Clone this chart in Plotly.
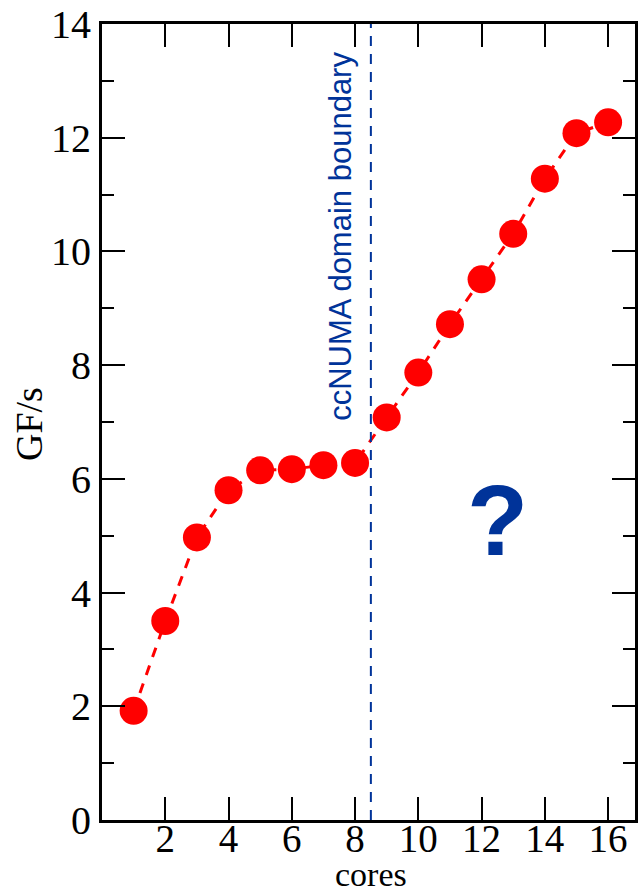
import plotly.graph_objects as go

# Measured throughput vs. number of cores
cores = list(range(1, 17))
gflops = [1.92, 3.50, 4.97, 5.80, 6.15, 6.17, 6.24, 6.28,
          7.08, 7.87, 8.72, 9.51, 10.31, 11.28, 12.08, 12.27]

x_ticks = [2, 4, 6, 8, 10, 12, 14, 16]
y_ticks = [0, 2, 4, 6, 8, 10, 12, 14]
boundary_x = 8.5

BLUE = "#003399"
SERIF = "Liberation Serif"

fig = go.Figure()
fig.add_trace(go.Scatter(
    x=cores, y=gflops, mode="lines+markers",
    line=dict(color="#ff0000", width=3, dash="10px,9px"),
    marker=dict(color="#ff0000", size=28, line=dict(width=0)),
    showlegend=False, hoverinfo="skip",
))

# ccNUMA boundary marker
fig.add_shape(type="line", x0=boundary_x, x1=boundary_x, y0=0, y1=14,
              xref="x", yref="y",
              line=dict(color=BLUE, width=2, dash="10px,8px"))

fig.add_annotation(x=7.56, y=10.26, xref="x", yref="y",
                   text="ccNUMA domain boundary", textangle=-90,
                   showarrow=False, xanchor="center", yanchor="middle",
                   font=dict(family="Liberation Sans", size=31, color=BLUE))
fig.add_annotation(x=12.5, y=5.28, xref="x", yref="y",
                   text="<b>?</b>", showarrow=False,
                   xanchor="center", yanchor="middle",
                   font=dict(family="Liberation Sans", size=100, color=BLUE))

# Axis titles
fig.add_annotation(x=-0.138, y=0.498, xref="paper", yref="paper",
                   text="GF/s", textangle=-90, showarrow=False,
                   xanchor="center", yanchor="middle",
                   font=dict(family=SERIF, size=38, color="black"))
fig.add_annotation(x=0.504, y=-0.0687, xref="paper", yref="paper",
                   text="cores", showarrow=False,
                   xanchor="center", yanchor="middle",
                   font=dict(family=SERIF, size=34, color="black"))

fig.update_xaxes(
    range=[0, 16.85], tickvals=x_ticks, ticktext=[str(v) for v in x_ticks],
    ticks="inside", ticklen=23, tickwidth=2, tickcolor="black",
    showline=True, linewidth=3, linecolor="black", mirror="ticks",
    showgrid=False, zeroline=False, ticklabeloverflow="allow",
    ticklabelstandoff=-18,
    tickfont=dict(family=SERIF, size=39, color="black"),
)
fig.update_yaxes(
    range=[0, 14], tickvals=y_ticks, ticktext=[str(v) for v in y_ticks],
    ticks="inside", ticklen=23, tickwidth=2, tickcolor="black",
    minor=dict(dtick=1, ticks="inside", ticklen=12, tickwidth=2,
               tickcolor="black", showgrid=False),
    showline=True, linewidth=3, linecolor="black", mirror="ticks",
    showgrid=False, zeroline=False, ticklabeloverflow="allow",
    tickfont=dict(family=SERIF, size=40, color="black"),
)

fig.update_layout(
    width=640, height=896,
    margin=dict(l=102, r=2, t=19, b=76),
    paper_bgcolor="white", plot_bgcolor="white",
)

fig.write_html("out.html")
